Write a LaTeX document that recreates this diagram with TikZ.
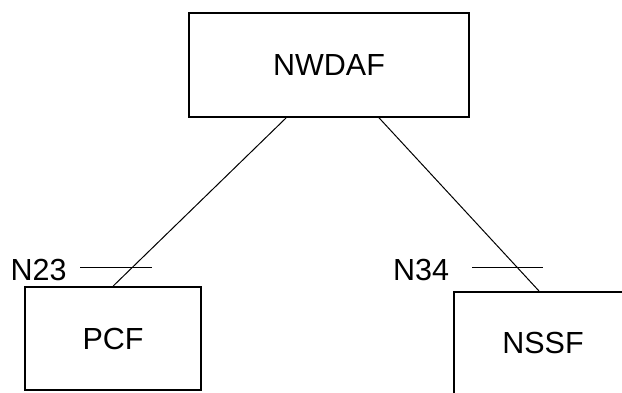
\documentclass[tikz,border=0pt]{standalone}
\usepackage{fontspec}
\setmainfont{Liberation Sans}
\begin{document}
\begin{tikzpicture}[x=1pt,y=-1pt,
  nfbox/.style={draw=black, line width=1.8pt, rectangle, inner sep=0pt, font=\fontsize{30.5}{36}\selectfont},
  iflabel/.style={inner sep=0pt, font=\fontsize{30.5}{36}\selectfont},
  link/.style={draw=black, line width=1pt}]
\useasboundingbox (0,0) rectangle (622,392);
\clip (0,0) rectangle (622,392);
\node[nfbox, minimum width=280pt, minimum height=104pt] (nwdaf) at (329,65) {NWDAF};
\node[nfbox, minimum width=176pt, minimum height=103pt] (pcf) at (113,338.5) {PCF};
\node[nfbox, minimum width=178pt, minimum height=102pt] (nssf) at (543,343) {NSSF};
\coordinate (nwL) at ([xshift=98pt]nwdaf.south west);
\coordinate (nwR) at ([xshift=191pt]nwdaf.south west);
\coordinate (pcfT) at ([xshift=89pt]pcf.north west);
\coordinate (nssfT) at ([xshift=86pt]nssf.north west);
\draw[link] (nwL) -- (pcfT);
\draw[link] (nwR) -- (nssfT);
\node[iflabel] (n23) at (38.5,270) {N23};
\node[iflabel] (n34) at (421,270) {N34};
\coordinate (t23a) at (80,267);
\coordinate (t23b) at (152,267);
\coordinate (t34a) at (472,267);
\coordinate (t34b) at (543,267);
\draw[link] (t23a) -- (t23b);
\draw[link] (t34a) -- (t34b);
\end{tikzpicture}
\end{document}
